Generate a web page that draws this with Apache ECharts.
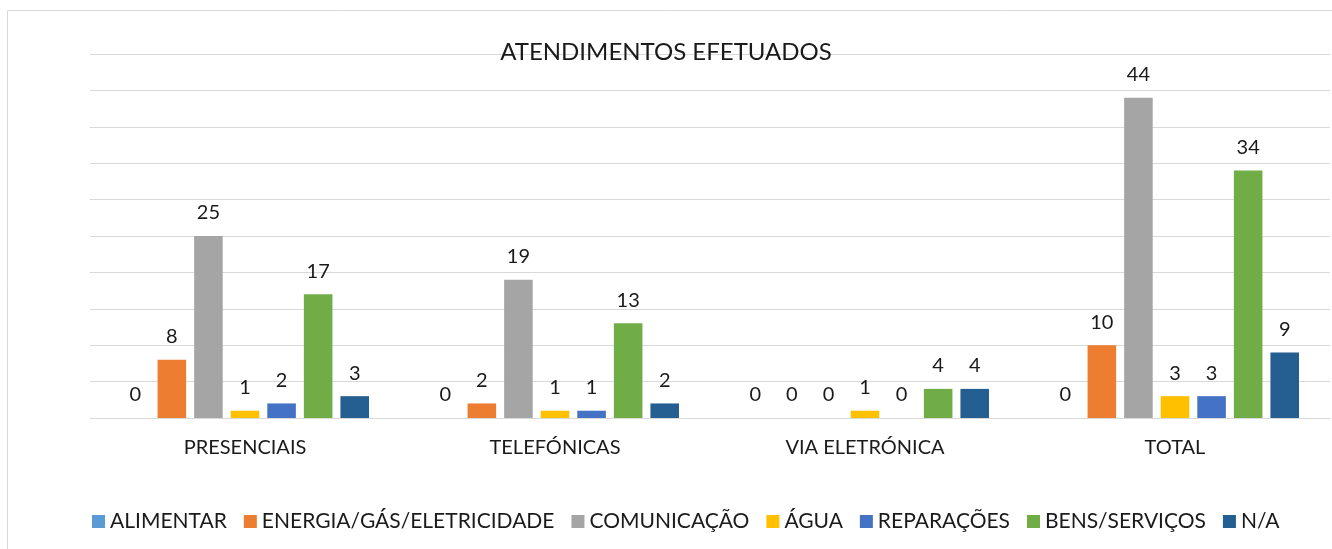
<!DOCTYPE html>
<html lang="pt">
<head>
<meta charset="utf-8">
<title>Atendimentos efetuados</title>
<script src="https://cdn.jsdelivr.net/npm/echarts@6/dist/echarts.min.js"></script>
<style>
  html, body { margin: 0; padding: 0; background: #fff; }
  #main { width: 1332px; height: 549px; }
</style>
</head>
<body>
<div id="main"></div>
<script>
  // categorias e séries
  var categorias = ['PRESENCIAIS', 'TELEFÓNICAS', 'VIA ELETRÓNICA', 'TOTAL'];
  var nomes = ['ALIMENTAR', 'ENERGIA/GÁS/ELETRICIDADE', 'COMUNICAÇÃO', 'ÁGUA', 'REPARAÇÕES', 'BENS/SERVIÇOS', 'N/A'];
  var alimentar   = [0, 0, 0, 0];
  var energia     = [8, 2, 0, 10];
  var comunicacao = [25, 19, 0, 44];
  var agua        = [1, 1, 1, 3];
  var reparacoes  = [2, 1, 0, 3];
  var bens        = [17, 13, 4, 34];
  var na          = [3, 2, 4, 9];
  var cores = ['#5B9BD5', '#ED7D31', '#A5A5A5', '#FFC000', '#4472C4', '#70AD47', '#255E91'];

  var valores = [alimentar, energia, comunicacao, agua, reparacoes, bens, na];
  var fonte = 'Lato, "Open Sans", sans-serif';

  var series = valores.map(function (v, i) {
    return {
      name: nomes[i],
      type: 'bar',
      data: v,
      barGap: '28%',
      barCategoryGap: '20%',
      itemStyle: { color: cores[i] },
      label: {
        show: true,
        position: 'top',
        distance: 13,
        color: '#1a1a1a',
        fontFamily: fonte,
        fontSize: 20
      }
    };
  });

  var myChart = echarts.init(document.getElementById('main'));
  myChart.setOption({
    animation: false,
    color: cores,
    title: {
      text: 'ATENDIMENTOS EFETUADOS',
      left: 'center',
      top: 35,
      textStyle: { color: '#1a1a1a', fontFamily: fonte, fontSize: 24, fontWeight: 'normal' }
    },
    graphic: [{
      type: 'rect',
      shape: { x: 7.5, y: 10.5, width: 1340, height: 560 },
      style: { fill: 'none', stroke: '#d9d9d9', lineWidth: 1 },
      silent: true
    }],
    legend: {
      data: nomes,
      left: 87,
      top: 506,
      icon: 'rect',
      itemWidth: 13,
      itemHeight: 13,
      itemGap: 17,
      textStyle: { color: '#1a1a1a', fontFamily: fonte, fontSize: 21 }
    },
    grid: { left: 90, right: 2, top: 54, bottom: 131 },
    xAxis: {
      type: 'category',
      data: categorias,
      axisLine: { lineStyle: { color: '#d9d9d9' } },
      axisTick: { show: false },
      axisLabel: { color: '#1a1a1a', fontFamily: fonte, fontSize: 20, margin: 20 }
    },
    yAxis: {
      type: 'value',
      min: 0,
      max: 50,
      interval: 5,
      axisLine: { show: false },
      axisTick: { show: false },
      axisLabel: { show: false },
      splitLine: { lineStyle: { color: '#d9d9d9' } }
    },
    series: series
  });
</script>
</body>
</html>
